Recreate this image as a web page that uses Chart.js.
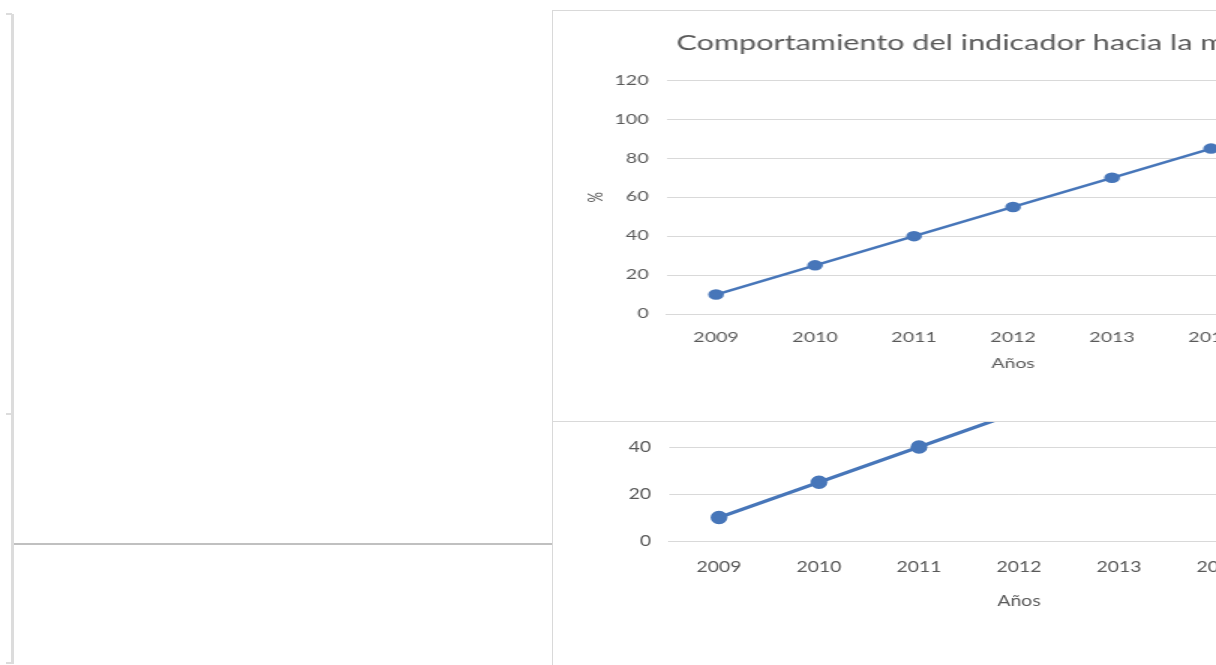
<!DOCTYPE html>
<html>
<head>
<meta charset="utf-8">
<script src="https://cdn.jsdelivr.net/npm/chart.js@4.4.1/dist/chart.umd.min.js"></script>
<style>
  body { margin:0; width:1216px; height:665px; overflow:hidden; background:#fff; position:relative; }
  .abs { position:absolute; }
</style>
</head>
<body>
<!-- left bracket and rule -->
<div class="abs" style="left:11px;top:14px;width:3px;height:650px;background:#dcdcdc"></div>
<div class="abs" style="left:6px;top:13px;width:6px;height:2px;background:#dcdcdc"></div>
<div class="abs" style="left:6px;top:413px;width:6px;height:2px;background:#dcdcdc"></div>
<div class="abs" style="left:6px;top:662px;width:6px;height:2px;background:#dcdcdc"></div>
<div class="abs" style="left:14px;top:543px;width:538px;height:2px;background:#c0c0c0"></div>

<!-- chart underneath (bigger copy) -->
<div class="abs" style="left:552px;top:170px;width:700px;height:520px;border-left:1px solid #d9d9d9;overflow:hidden">
  <div style="transform:scaleX(1.25);transform-origin:0 0;width:670px;height:495px">
    <canvas id="chartBack" width="670" height="495"></canvas>
  </div>
</div>

<!-- chart on top -->
<div class="abs" style="left:552px;top:10px;width:700px;height:410px;border:1px solid #d9d9d9;background:#fff;overflow:hidden">
  <div style="transform:scaleX(1.5);transform-origin:0 0;width:550px;height:410px">
    <canvas id="chartFront" width="550" height="410"></canvas>
  </div>
</div>

<script>
const years = ['2009', '2010', '2011', '2012', '2013', '2014', '2015'];
const indicador = [10, 25, 40, 55, 70, 85, 100];
const yMin = 0;
const yMax = 120;
const yStep = 20;

const chartTitle = 'Comportamiento del indicador hacia la meta';
const xTitle = 'Años';
const yTitle = '%';

Chart.defaults.font.family = 'Lato, "Open Sans", sans-serif';
Chart.defaults.color = '#595959';

function makeChart(id, s) {
    return new Chart(document.getElementById(id), {
        type: 'line',
        data: {
            labels: years,
            datasets: [{
                label: 'Indicador',
                data: indicador,
                borderColor: '#4776b9',
                backgroundColor: '#4776b9',
                borderWidth: s.lineW,
                pointRadius: s.dot,
                pointHoverRadius: s.dot,
                fill: false,
                tension: 0
            }]
        },
        options: {
            responsive: false,
            animation: false,
            layout: { padding: { left: s.padLeft, right: s.padRight, top: 0, bottom: 0 } },
            plugins: {
                legend: { display: false },
                tooltip: { enabled: false },
                title: {
                    display: true,
                    text: chartTitle,
                    color: '#595959',
                    font: { size: s.titleSize, weight: 'normal' },
                    padding: { top: s.titleTop, bottom: s.titleBottom }
                }
            },
            scales: {
                x: {
                    offset: true,
                    grid: { display: false, offset: true },
                    border: { display: true, color: '#d9d9d9' },
                    ticks: { font: { size: s.tickSize }, padding: s.xTickPad, maxRotation: 0 },
                    title: { display: true, text: xTitle, font: { size: s.tickSize }, padding: { top: 0, bottom: s.xTitlePad } },
                    afterFit: function (scale) { scale.height = s.xH; }
                },
                y: {
                    min: yMin,
                    max: yMax,
                    grid: { color: '#d9d9d9', drawTicks: false },
                    border: { display: false },
                    ticks: { stepSize: yStep, font: { size: s.tickSize }, padding: s.yTickPad },
                    title: { display: true, text: yTitle, font: { size: s.tickSize }, padding: { top: s.yTitlePad, bottom: 0 } },
                    afterFit: function (scale) { scale.width = s.yW; }
                }
            }
        }
    });
}

makeChart('chartBack', {
    lineW: 3.5, dot: 5, padLeft: 0, padRight: 17.2,
    titleSize: 24, titleTop: 30, titleBottom: 30.2,
    tickSize: 15.5, xTickPad: 9, xTitlePad: 54.7, xH: 124,
    yTickPad: 14.4, yTitlePad: 25.2, yW: 92.8
});

makeChart('chartFront', {
    lineW: 2.5, dot: 4, padLeft: 21, padRight: 12.3,
    titleSize: 20.4, titleTop: 20, titleBottom: 25,
    tickSize: 13, xTickPad: 7.6, xTitlePad: 49.2, xH: 107,
    yTickPad: 12, yTitlePad: 0.5, yW: 54.7
});
</script>
</body>
</html>
